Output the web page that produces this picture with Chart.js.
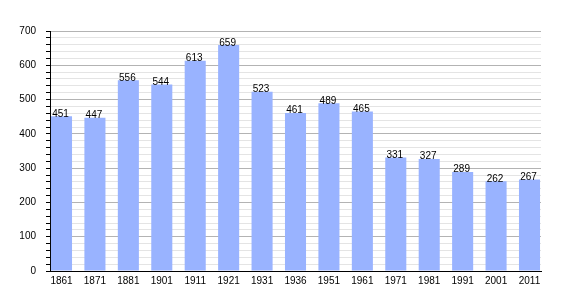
<!DOCTYPE html>
<html>
<head>
<meta charset="utf-8">
<script src="https://cdn.jsdelivr.net/npm/chart.js@4"></script>
<style>
  html, body { margin: 0; padding: 0; background: #fff; }
  #wrap { width: 570px; height: 300px; }
</style>
</head>
<body>
<div id="wrap"><canvas id="myChart" width="570" height="300"></canvas></div>
<script>
const years = ['1861', '1871', '1881', '1901', '1911', '1921', '1931', '1936', '1951', '1961', '1971', '1981', '1991', '2001', '2011'];
const population = [451, 447, 556, 544, 613, 659, 523, 461, 489, 465, 331, 327, 289, 262, 267];
const yTicks = [0, 100, 200, 300, 400, 500, 600, 700];

const points = population.map((v, i) => ({ x: i, y: v }));

// numbers on top of the bars
const barValues = {
  id: 'barValues',
  afterDatasetsDraw(chart) {
    const c = chart.ctx;
    const meta = chart.getDatasetMeta(0);
    c.save();
    c.font = '10px "Liberation Sans", Arial, sans-serif';
    c.fillStyle = '#000';
    c.textAlign = 'center';
    c.textBaseline = 'alphabetic';
    meta.data.forEach((bar, i) => {
      c.fillText(String(population[i]), bar.x - 1, bar.y + 0.5);
    });
    c.restore();
  }
};

const ctx = document.getElementById('myChart');

const myChart = new Chart(ctx, {
  type: 'bar',
  data: {
    datasets: [{
      data: points,
      backgroundColor: '#99b3ff',
      borderWidth: 0,
      categoryPercentage: 1,
      barPercentage: 0.63,
    }]
  },
  options: {
    responsive: false,
    animation: false,
    layout: { padding: { top: 31, right: 29, left: 0, bottom: 0 } },
    plugins: { legend: { display: false }, tooltip: { enabled: false } },
    scales: {
      x: {
        type: 'linear',
        offset: false,
        min: -0.344,
        max: 14.344,
        afterFit: (s) => { s.height = 29; },
        grid: { display: false, drawTicks: false, offset: false },
        border: { color: '#000', width: 1 },
        ticks: {
          stepSize: 1,
          includeBounds: false,
          autoSkip: false,
          maxRotation: 0,
          padding: 4,
          color: '#000',
          font: { family: '"Liberation Sans", Arial, sans-serif', size: 10 },
          callback: (v) => years[v],
        },
      },
      y: {
        min: yTicks[0],
        max: yTicks[yTicks.length - 1],
        afterFit: (s) => { s.width = 50; },
        grid: {
          color: (c) => (c.tick.value % 100 === 0 ? '#b3b3b3' : '#e4e4e4'),
          tickColor: '#000',
          tickLength: 4,
        },
        border: { color: '#000', width: 1 },
        ticks: {
          stepSize: 20,
          autoSkip: false,
          padding: 10,
          color: '#000',
          font: { family: '"Liberation Sans", Arial, sans-serif', size: 10 },
          callback: (v) => (yTicks.includes(v) ? String(v) : ''),
        },
      },
    },
  },
  plugins: [barValues],
});
</script>
</body>
</html>
